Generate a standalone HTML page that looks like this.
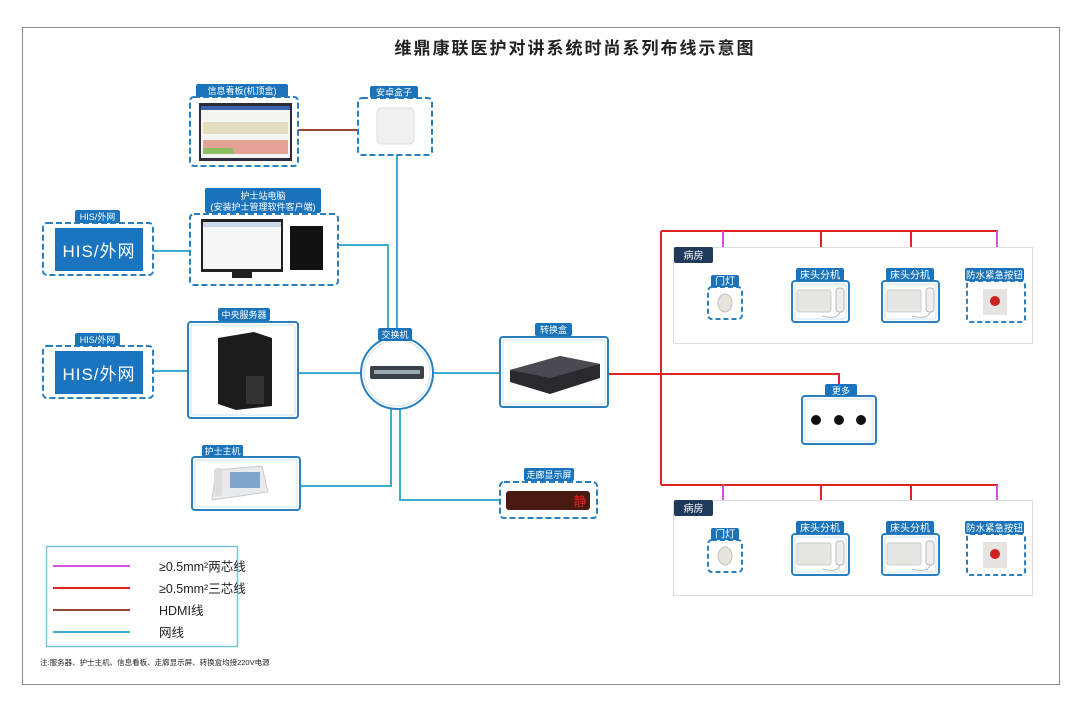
<!DOCTYPE html>
<html><head><meta charset="utf-8"><style>
body{margin:0;background:#fff;}
svg{display:block;font-family:"Liberation Sans","Noto Sans CJK SC",sans-serif;}
.l{font-size:9px;fill:#fff;text-anchor:middle;}
</style></head><body>
<svg width="1080" height="704" viewBox="0 0 1080 704" xmlns="http://www.w3.org/2000/svg">
<rect x="0" y="0" width="1080" height="704" fill="#fff"/>
<rect x="22.5" y="27.5" width="1037" height="657" fill="none" stroke="#8a8a8a" stroke-width="1"/>
<text x="575" y="54" font-size="17" text-anchor="middle" letter-spacing="2" fill="#222" font-weight="bold">维鼎康联医护对讲系统时尚系列布线示意图</text>

<g stroke="#3aaed0" stroke-width="2" fill="none">
<path d="M397 155 V340"/>
<path d="M338 245 H388 V340"/>
<path d="M153 251 H190"/>
<path d="M153 371 H188"/>
<path d="M298 373 H362"/>
<path d="M433 373 H500"/>
<path d="M300 486 H391 V408"/>
<path d="M400 408 V500 H500"/>
</g>
<path d="M298 130 H358" stroke="#9a4630" stroke-width="2"/>
<g stroke="#e02424" stroke-width="2" fill="none">
<path d="M608 374 H839 V385"/>
<path d="M661 231 V485"/>
<path d="M661 231 H998"/>
<path d="M661 485 H998"/>
<path d="M821 231 V268"/><path d="M911 231 V268"/>
<path d="M821 485 V520"/><path d="M911 485 V520"/>
</g>
<g stroke="#d453e0" stroke-width="2" fill="none">
<path d="M723 231 V276"/><path d="M997 231 V268"/>
<path d="M723 485 V529"/><path d="M997 485 V520"/>
</g>

<g>
<rect x="673.5" y="247.5" width="359" height="96" fill="#fff" stroke="#ddd"/>
<rect x="674" y="247" width="39" height="16" rx="2" fill="#1f3a5a"/>
<text x="693.5" y="259" font-size="10" fill="#fff" text-anchor="middle">病房</text>
<rect x="673.5" y="500.5" width="359" height="95" fill="#fff" stroke="#ddd"/>
<rect x="674" y="500" width="39" height="16" rx="2" fill="#1f3a5a"/>
<text x="693.5" y="512" font-size="10" fill="#fff" text-anchor="middle">病房</text>
</g>

<defs>
<g id="room">
<rect x="708" y="287" width="34" height="32" rx="4" fill="#fff" stroke="#2a7fc0" stroke-width="2" stroke-dasharray="5,3"/>
<rect x="711" y="275" width="28" height="12" rx="2" fill="#1b74bb"/>
<text x="725" y="284.5" font-size="10" fill="#fff" text-anchor="middle">门灯</text>
<ellipse cx="725" cy="303" rx="7" ry="9" fill="#e8e4dc" stroke="#c8c2b6"/>
<g id="bed">
<rect x="792" y="281" width="57" height="41" rx="3" fill="#fff" stroke="#2a7fc0" stroke-width="2"/>
<rect x="795" y="284" width="51" height="35" rx="2" fill="none" stroke="#cfe0ee" stroke-width="1"/>
<rect x="796" y="268" width="48" height="13" rx="2" fill="#1b74bb"/>
<text x="820" y="278.5" font-size="10" fill="#fff" text-anchor="middle">床头分机</text>
<rect x="797" y="290" width="34" height="22" rx="2" fill="#e6e6e2" stroke="#ccc"/>
<rect x="836" y="288" width="8" height="24" rx="3" fill="#eee" stroke="#bbb"/>
<path d="M840 312 Q838 320 822 316" stroke="#bbb" fill="none"/>
</g>
<use href="#bed" x="90"/>
<rect x="967" y="281" width="58" height="41" rx="3" fill="#fff" stroke="#2a7fc0" stroke-width="2" stroke-dasharray="5,3"/>
<rect x="965" y="268" width="59" height="13" rx="2" fill="#1b74bb"/>
<text x="994.5" y="278.5" font-size="9.5" fill="#fff" text-anchor="middle">防水紧急按钮</text>
<rect x="983" y="289" width="24" height="26" fill="#e6e4e0"/>
<circle cx="995" cy="301" r="5" fill="#d02020"/>
</g>
</defs>
<use href="#room"/>
<use href="#room" y="253"/>

<rect x="802" y="396" width="74" height="48" rx="3" fill="#fff" stroke="#2a7fc0" stroke-width="2"/>
<rect x="805" y="399" width="68" height="42" rx="2" fill="none" stroke="#cfe0ee"/>
<rect x="825" y="384" width="32" height="12" rx="2" fill="#1b74bb"/>
<text x="841" y="394" class="l">更多</text>
<circle cx="816" cy="420" r="5" fill="#111"/><circle cx="839" cy="420" r="5" fill="#111"/><circle cx="861" cy="420" r="5" fill="#111"/>

<rect x="190" y="97" width="108" height="69" rx="4" fill="#fff" stroke="#2a7fc0" stroke-width="2" stroke-dasharray="6,3"/>
<rect x="196" y="84" width="92" height="13" rx="2" fill="#1b74bb"/>
<text x="242" y="94" class="l">信息看板(机顶盒)</text>
<rect x="199" y="103" width="93" height="58" fill="#2b2b3a"/>
<rect x="201" y="106" width="89" height="52" fill="#f4f4f2"/>
<rect x="201" y="106" width="89" height="4" fill="#3a62a8"/>
<rect x="203" y="122" width="85" height="12" fill="#e0d6b0" opacity=".8"/>
<rect x="203" y="140" width="85" height="14" fill="#d86a5a" opacity=".6"/>
<rect x="203" y="148" width="30" height="6" fill="#8bc060"/>

<rect x="358" y="98" width="74" height="57" rx="4" fill="#fff" stroke="#2a7fc0" stroke-width="2" stroke-dasharray="6,3"/>
<rect x="370" y="86" width="48" height="12" rx="2" fill="#1b74bb"/>
<text x="394" y="95.5" class="l">安卓盒子</text>
<rect x="377" y="108" width="37" height="36" rx="5" fill="#f1f1f1" stroke="#ddd"/>

<rect x="205" y="188" width="116" height="25" rx="2" fill="#1b74bb"/>
<text x="263" y="199" class="l">护士站电脑</text>
<text x="263" y="210" class="l">(安装护士管理软件客户端)</text>
<rect x="190" y="214" width="148" height="71" rx="4" fill="#fff" stroke="#2a7fc0" stroke-width="2" stroke-dasharray="6,3"/>
<rect x="201" y="219" width="82" height="53" fill="#222"/>
<rect x="203" y="222" width="78" height="47" fill="#f6f6f6"/>
<rect x="203" y="222" width="78" height="5" fill="#c9d6e8"/>
<rect x="232" y="272" width="20" height="6" fill="#222"/>
<rect x="290" y="226" width="33" height="44" fill="#111"/>

<g id="his">
<rect x="43" y="223" width="110" height="52" rx="4" fill="#fff" stroke="#2a7fc0" stroke-width="2" stroke-dasharray="6,3"/>
<rect x="75" y="210" width="45" height="13" rx="2" fill="#1b74bb"/>
<text x="97.5" y="220" class="l">HIS/外网</text>
<rect x="55" y="228" width="88" height="43" fill="#1a74c0"/>
<text x="99" y="257" font-size="17" fill="#fff" text-anchor="middle" letter-spacing="1">HIS/外网</text>
</g>
<use href="#his" y="123"/>

<rect x="188" y="322" width="110" height="96" rx="3" fill="#fff" stroke="#2a7fc0" stroke-width="2"/>
<rect x="191" y="325" width="104" height="90" rx="2" fill="none" stroke="#cfe0ee"/>
<rect x="218" y="308" width="52" height="13" rx="2" fill="#1b74bb"/>
<text x="244" y="318" class="l">中央服务器</text>
<path d="M218 338 L254 332 L272 338 V406 L236 410 L218 404 Z" fill="#1c1c1c"/>
<rect x="246" y="376" width="18" height="28" fill="#333"/>

<circle cx="397" cy="373" r="36" fill="#fff" stroke="#2a7fc0" stroke-width="2"/>
<circle cx="397" cy="373" r="33" fill="none" stroke="#cfe0ee"/>
<rect x="378" y="328" width="34" height="13" rx="2" fill="#1b74bb"/>
<text x="395" y="338" class="l">交换机</text>
<rect x="370" y="366" width="54" height="13" rx="2" fill="#3a3f48"/>
<rect x="374" y="370" width="46" height="4" fill="#9aa"/>

<rect x="500" y="337" width="108" height="70" rx="3" fill="#fff" stroke="#2a7fc0" stroke-width="2"/>
<rect x="503" y="340" width="102" height="64" rx="2" fill="none" stroke="#cfe0ee"/>
<rect x="535" y="323" width="37" height="13" rx="2" fill="#1b74bb"/>
<text x="553.5" y="333" class="l">转换盒</text>
<path d="M510 370 L560 356 L600 364 V378 L550 394 L510 382 Z" fill="#2a2a2e"/>
<path d="M510 370 L560 356 L600 364 L550 378 Z" fill="#4a4a50"/>

<rect x="192" y="457" width="108" height="53" rx="3" fill="#fff" stroke="#2a7fc0" stroke-width="2"/>
<rect x="195" y="460" width="102" height="47" rx="2" fill="none" stroke="#cfe0ee"/>
<rect x="202" y="445" width="41" height="12" rx="2" fill="#1b74bb"/>
<text x="222.5" y="454.5" class="l">护士主机</text>
<path d="M212 500 L216 470 L262 466 L268 492 Z" fill="#e8eaec" stroke="#c8ccd0"/>
<rect x="214" y="468" width="8" height="28" rx="3" fill="#ddd"/>
<rect x="230" y="472" width="30" height="16" fill="#7ea6cc"/>

<rect x="500" y="482" width="97" height="36" rx="4" fill="#fff" stroke="#2a7fc0" stroke-width="2" stroke-dasharray="6,3"/>
<rect x="524" y="468" width="50" height="13" rx="2" fill="#1b74bb"/>
<text x="549" y="478" class="l">走廊显示屏</text>
<rect x="506" y="491" width="84" height="19" rx="3" fill="#4a1a12"/>
<text x="580" y="506" font-size="13" fill="#e02020" text-anchor="middle">静</text>

<rect x="46.5" y="546.5" width="191" height="100" fill="#fff" stroke="#7cc6d0" stroke-width="1.5"/>
<path d="M53 566 H130" stroke="#d453e0" stroke-width="2"/>
<path d="M53 588 H130" stroke="#e02424" stroke-width="2"/>
<path d="M53 610 H130" stroke="#9a4630" stroke-width="2"/>
<path d="M53 632 H130" stroke="#3aaed0" stroke-width="2"/>
<g font-size="12.5" fill="#222">
<text x="159" y="571">≥0.5mm²两芯线</text>
<text x="159" y="593">≥0.5mm²三芯线</text>
<text x="159" y="615">HDMI线</text>
<text x="159" y="637">网线</text>
</g>
<text x="40" y="665" font-size="7.5" fill="#222">注:服务器、护士主机、信息看板、走廊显示屏、转换盒均接220V电源</text>
</svg>
</body></html>
